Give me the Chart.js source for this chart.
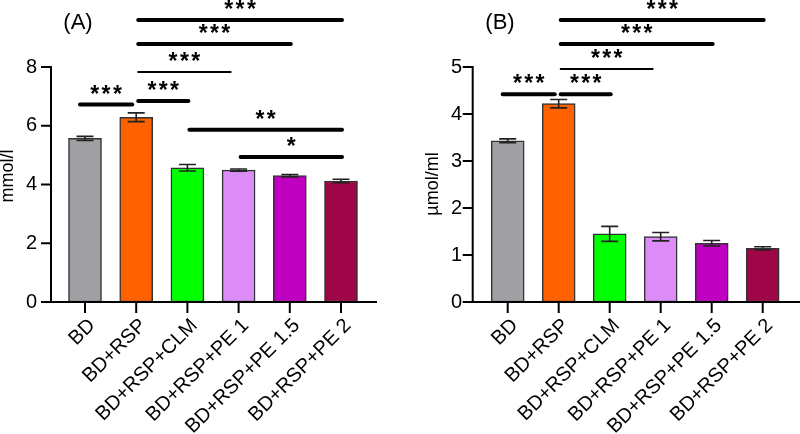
<!DOCTYPE html>
<html lang="en">
<head>
<meta charset="UTF-8">
<title>BD / RSP bar charts</title>
<script src="https://cdn.jsdelivr.net/npm/chart.js"></script>
<style>
    body { margin: 0; background: #fff; }
    .wrap { position: relative; width: 800px; height: 434px; }
    canvas { position: absolute; top: 0; }
    #chartA { left: 0; }
    #chartB { left: 400px; }
</style>
</head>
<body>
<div class="wrap">
    <canvas id="chartA" width="400" height="434"></canvas>
    <canvas id="chartB" width="400" height="434"></canvas>
</div>
<script>
    // groups
    const categories = ['BD', 'BD+RSP', 'BD+RSP+CLM', 'BD+RSP+PE 1', 'BD+RSP+PE 1.5', 'BD+RSP+PE 2'];

    // panel A (mmol/l)
    const meansA = [5.57, 6.29, 4.57, 4.49, 4.30, 4.12];
    const errA = [0.07, 0.15, 0.11, 0.04, 0.04, 0.06];
    const ticksA = [0, 2, 4, 6, 8];
    // [from, to, stars, height]
    const sigA = [
        [0, 1, '***', 6.72],
        [1, 2, '***', 6.84],
        [1, 3, '***', 7.83],
        [1, 4, '***', 8.78],
        [1, 5, '***', 9.60],
        [2, 5, '**', 5.86],
        [3, 5, '*', 4.94]
    ];

    // panel B (µmol/ml)
    const meansB = [3.43, 4.22, 1.45, 1.39, 1.25, 1.14];
    const errB = [0.04, 0.09, 0.16, 0.09, 0.06, 0.035];
    const ticksB = [0, 1, 2, 3, 4, 5];
    const sigB = [
        [0, 1, '***', 4.42],
        [1, 2, '***', 4.42],
        [1, 3, '***', 4.96],
        [1, 4, '***', 5.49],
        [1, 5, '***', 6.00]
    ];

    const barColors = ['#a0a0a4', '#ff6000', '#00ff00', '#dc8cf7', '#c000c0', '#9e0648'];
    const FONT = '"Liberation Sans", Arial, sans-serif';

    // plugin: axes, error bars, significance brackets, labels
    const extras = {
        id: 'extras',
        afterDatasetsDraw(chart, args, o) {
            const ctx = chart.ctx;
            const xs = chart.scales.x, ys = chart.scales.y;
            const area = chart.chartArea;
            ctx.save();

            // error bars
            ctx.strokeStyle = '#222';
            ctx.lineWidth = 1.6;
            o.means.forEach((m, i) => {
                const x = xs.getPixelForValue(i);
                const y1 = ys.getPixelForValue(m + o.err[i]);
                const y2 = ys.getPixelForValue(m - o.err[i]);
                ctx.beginPath();
                ctx.moveTo(x, y1); ctx.lineTo(x, y2);
                ctx.moveTo(x - 8.5, y1); ctx.lineTo(x + 8.5, y1);
                ctx.moveTo(x - 8.5, y2); ctx.lineTo(x + 8.5, y2);
                ctx.stroke();
            });

            // axes
            ctx.strokeStyle = '#000';
            ctx.lineWidth = 2;
            ctx.beginPath();
            ctx.moveTo(o.axisLeft, area.top - 1);
            ctx.lineTo(o.axisLeft, area.bottom);
            ctx.lineTo(o.axisRight, area.bottom);
            o.ticks.forEach(v => {
                const y = ys.getPixelForValue(v);
                ctx.moveTo(o.axisLeft - 10, y); ctx.lineTo(o.axisLeft, y);
            });
            categories.forEach((c, i) => {
                const x = xs.getPixelForValue(i);
                ctx.moveTo(x, area.bottom); ctx.lineTo(x, area.bottom + 11);
            });
            ctx.stroke();

            // significance brackets
            ctx.fillStyle = '#000';
            ctx.lineCap = 'round';
            o.sig.forEach(([a, b, stars, h]) => {
                const y = ys.getPixelForValue(h);
                let x1 = xs.getPixelForValue(a) + 2;
                let x2 = xs.getPixelForValue(b) + 1;
                if (a === 0) { x1 -= 7; x2 -= 5; }
                const thin = (a === 1 && b === 3);
                if (thin) x2 -= 9;
                ctx.lineWidth = thin ? 2 : 4;
                ctx.beginPath();
                ctx.moveTo(x1, y); ctx.lineTo(x2, y);
                ctx.stroke();
                const cx = (x1 + x2) / 2;
                ctx.font = 'bold 23px ' + FONT;
                ctx.textAlign = 'center';
                ctx.textBaseline = 'alphabetic';
                const n = stars.length;
                for (let k = 0; k < n; k++) {
                    ctx.fillText('*', cx + (k - (n - 1) / 2) * 11.3, y - 3);
                }
            });

            // y title
            ctx.font = '18px ' + FONT;
            ctx.textAlign = 'center';
            ctx.textBaseline = 'middle';
            ctx.save();
            ctx.translate(o.titleX, o.titleY);
            ctx.rotate(-Math.PI / 2);
            ctx.fillText(o.title, 0, 0);
            ctx.restore();

            // panel letter
            ctx.font = '22px ' + FONT;
            ctx.fillText(o.panel, o.panelX, 23);
            ctx.restore();
        }
    };

    function makeChart(id, means, err, ticks, sig, box, extra) {
        return new Chart(document.getElementById(id), {
            type: 'bar',
            data: {
                labels: categories,
                datasets: [{
                    data: means,
                    backgroundColor: barColors,
                    borderColor: '#333',
                    borderWidth: 1.5,
                    borderSkipped: false,
                    barThickness: 33
                }]
            },
            options: {
                responsive: false,
                animation: false,
                layout: { padding: { left: 0, top: 67, right: 400 - box.plotRight, bottom: 0 } },
                plugins: {
                    legend: { display: false },
                    tooltip: { enabled: false },
                    extras: Object.assign({ means, err, ticks, sig }, extra)
                },
                scales: {
                    x: {
                        offset: true,
                        grid: { display: false, drawTicks: false, tickLength: 0 },
                        border: { display: false },
                        ticks: {
                            color: '#000',
                            font: { family: FONT, size: 20 },
                            minRotation: 45,
                            maxRotation: 45,
                            autoSkip: false,
                            labelOffset: 7,
                            padding: 12
                        },
                        afterFit: s => { s.height = 132; }
                    },
                    y: {
                        min: 0,
                        max: ticks[ticks.length - 1],
                        grid: { display: false, drawTicks: false, tickLength: 0 },
                        border: { display: false },
                        ticks: {
                            color: '#000',
                            font: { family: FONT, size: 20 },
                            padding: box.plotLeft - box.labelRight
                        },
                        afterBuildTicks: s => { s.ticks = ticks.map(v => ({ value: v })); },
                        afterFit: s => { s.width = box.plotLeft; }
                    }
                }
            },
            plugins: [extras]
        });
    }

    makeChart('chartA', meansA, errA, ticksA, sigA,
        { plotLeft: 59.4, plotRight: 366.6, labelRight: 37 },
        { axisLeft: 51, axisRight: 377, title: 'mmol/l', titleX: 8, titleY: 176, panel: '(A)', panelX: 78 });

    makeChart('chartB', meansB, errB, ticksB, sigB,
        { plotLeft: 82.2, plotRight: 388.2, labelRight: 62 },
        { axisLeft: 72.7, axisRight: 400, title: 'µmol/ml', titleX: 33, titleY: 184, panel: '(B)', panelX: 100 });
</script>
</body>
</html>
